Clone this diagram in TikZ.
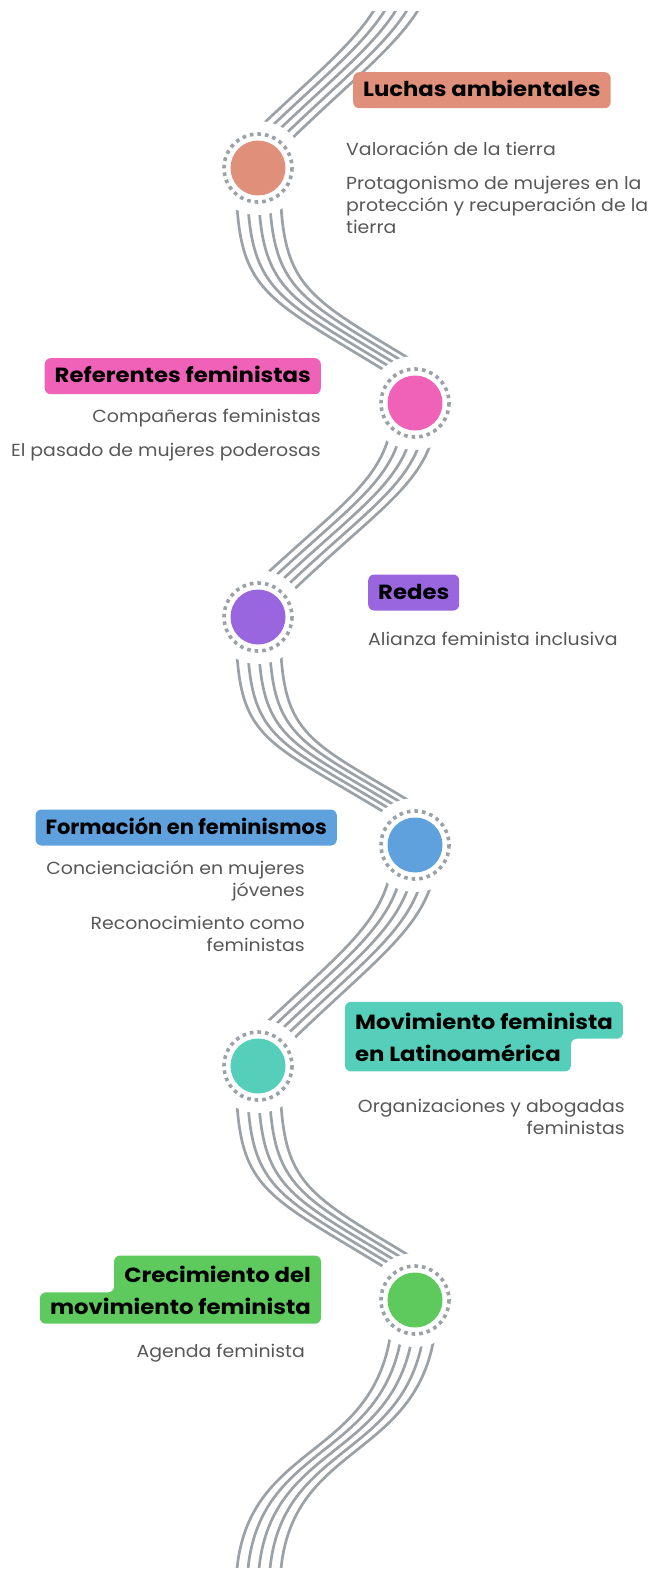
\documentclass[tikz,border=0pt]{standalone}
\usepackage{fontspec}
\setmainfont{Poppins}
\newfontfamily\headfont{Poppins}[FakeStretch=1.11]
\newfontfamily\headnarrow{Poppins}[FakeStretch=1.025]
\newfontfamily\bodyfont{Poppins}[FakeStretch=1.08]
\definecolor{wavegray}{HTML}{9AA1A7}
\definecolor{bodygray}{HTML}{575757}
\definecolor{salmon}{HTML}{E0907A}
\definecolor{pinkish}{HTML}{F062B8}
\definecolor{violet}{HTML}{9966E0}
\definecolor{skyblue}{HTML}{5EA1DD}
\definecolor{turq}{HTML}{55CFB9}
\definecolor{leaf}{HTML}{5EC95D}
\pgfdeclarelayer{wavelayer}
\pgfdeclarelayer{boxlayer}
\pgfsetlayers{wavelayer,boxlayer,main}

\begin{document}
\begin{tikzpicture}[x=1pt,y=-1pt,
  wave/.style={draw=wavegray,line width=2.7pt},
  hub/.style={circle,minimum size=55pt,inner sep=0pt},
  dotring/.style={draw=wavegray,line width=3.6pt,dash pattern=on 3.6pt off 4pt},
  heading/.style={inner xsep=10pt,inner ysep=0pt,text height=24.5pt,text depth=11.5pt,rounded corners=6pt,
                  font=\headfont\bfseries\fontsize{20.5}{24}\selectfont},
  twoline/.style={inner xsep=10pt,inner ysep=0pt,text height=27pt,text depth=9.5pt,
                  font=\headfont\bfseries\fontsize{20.5}{24}\selectfont},
  item/.style={inner sep=0pt,text=bodygray,font=\bodyfont\fontsize{17.5}{22}\selectfont}]
\useasboundingbox (0,0) rectangle (664,1569);

\foreach \n/\x/\y/\c in {1/258/168/salmon,2/415/403/pinkish,3/258/617/violet,4/415/845/skyblue,5/258/1066/turq,6/415/1300/leaf}{
  \node[hub,fill=\c] (c\n) at (\x,\y) {};
  \draw[dotring] (c\n.center) circle[radius=34];
}
\coordinate (top) at (415,-57);
\coordinate (bottom) at (258,1590);

\begin{pgfonlayer}{wavelayer}
\begin{scope}
\clip (0,11) rectangle (664,1567);
\foreach \s in {-22,-11,0,11,22}{
  \draw[wave] ([xshift=\s pt]top) .. controls +(0,80) and +(106,-106) .. ([shift={(\s-9,-9)}]c1.center) -- ([xshift=\s pt]c1.center)
    .. controls +(0,130) and +(-144,-90) .. ([shift={(\s+12,-20)}]c2.center) -- ([xshift=\s pt]c2.center)
    .. controls +(0,80) and +(106,-106) .. ([shift={(\s-7,-7)}]c3.center) -- ([xshift=\s pt]c3.center)
    .. controls +(0,130) and +(-144,-90) .. ([shift={(\s+12,-20)}]c4.center) -- ([xshift=\s pt]c4.center)
    .. controls +(0,80) and +(106,-106) .. ([shift={(\s-7,-7)}]c5.center) -- ([xshift=\s pt]c5.center)
    .. controls +(0,130) and +(-144,-90) .. ([shift={(\s+12,-20)}]c6.center) -- ([xshift=\s pt]c6.center)
    .. controls +(0,170) and +(0,-160) .. ([xshift=\s pt]bottom);
}
\end{scope}
\foreach \n in {1,...,6}
  \fill[white] (c\n.center) circle[radius=47];
\end{pgfonlayer}

\node[heading,fill=salmon,anchor=base west] (h1) at (353,96.7) {Luchas ambientales};
\node[item,anchor=base west] (b1a) at (346,155.7) {Valoración de la tierra};
\node[item,anchor=base west,align=left] (b1b) at (346,233) {Protagonismo de mujeres en la\\protección y recuperación de la\\tierra};

\node[heading,fill=pinkish,anchor=base east] (h2) at (321,382.7) {Referentes feministas};
\node[item,anchor=base east] (b2a) at (321,422.7) {Compañeras feministas};
\node[item,anchor=base east] (b2b) at (321,456.7) {El pasado de mujeres poderosas};

\node[heading,fill=violet,anchor=base west] (h3) at (368,599) {Redes};
\node[item,anchor=base west] (b3a) at (368,645) {Alianza feminista inclusiva};

\node[heading,fill=skyblue,anchor=base east,font=\headnarrow\bfseries\fontsize{20.5}{24}\selectfont] (h4) at (337,834) {Formación en feminismos};
\node[item,anchor=base east,align=right] (b4a) at (305,896) {Concienciación en mujeres\\jóvenes};
\node[item,anchor=base east,align=right] (b4b) at (305,951.7) {Reconocimiento como\\feministas};

\node[twoline,anchor=base west] (h5a) at (345,1029) {Movimiento feminista};
\node[twoline,anchor=base west] (h5b) at (345,1061.7) {en Latinoamérica};
\begin{pgfonlayer}{boxlayer}
\fill[turq,rounded corners=6pt] (h5a.north) -| (h5a.south east) -| (h5b.south east) -| (h5a.north west) -- cycle;
\end{pgfonlayer}
\node[item,anchor=base east,align=right] (b5a) at (625,1134) {Organizaciones y abogadas\\feministas};

\node[twoline,anchor=base east] (h6a) at (321,1282.7) {Crecimiento del};
\node[twoline,anchor=base east] (h6b) at (321,1314) {movimiento feminista};
\begin{pgfonlayer}{boxlayer}
\fill[leaf,rounded corners=6pt] (h6a.north) -| (h6a.south west) -| (h6b.south west) -| (h6a.north east) -- cycle;
\end{pgfonlayer}
\node[item,anchor=base east] (b6a) at (305,1357) {Agenda feminista};
\end{tikzpicture}
\end{document}
